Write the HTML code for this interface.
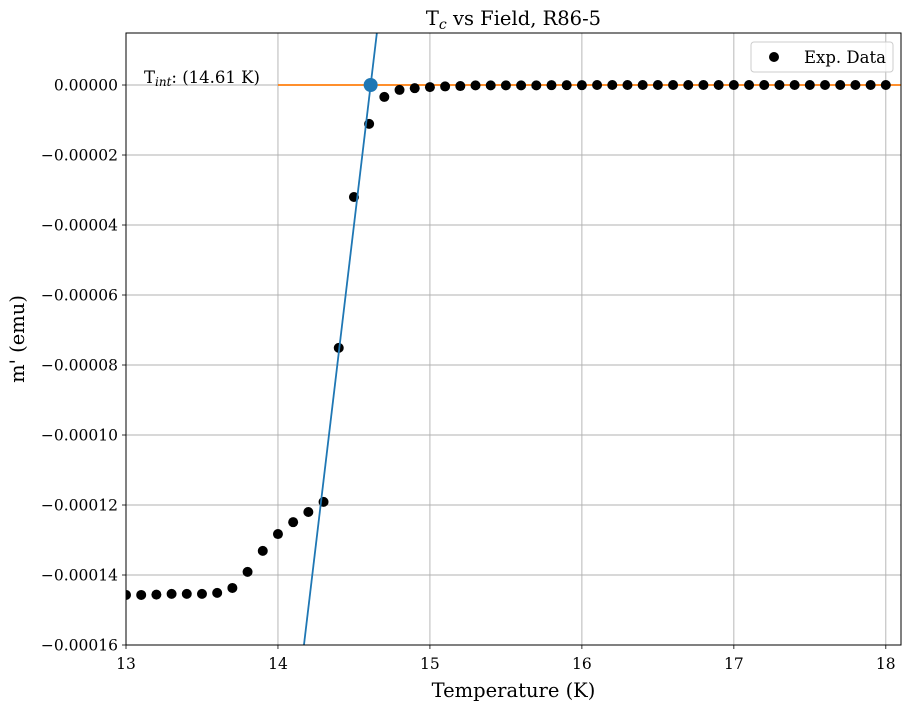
<!DOCTYPE html>
<html><head><meta charset="utf-8"><style>
html,body{margin:0;background:#fff;overflow:hidden;width:911px;height:710px;}
svg{display:block;font-family:"DejaVu Serif","Liberation Serif",serif;}
</style></head><body>
<svg id="chart" width="911" height="710" viewBox="0 0 911 710" xmlns="http://www.w3.org/2000/svg">
<rect width="911" height="710" fill="#fff"/>
<g id="grid"></g>
<g id="plot"></g>
<g id="axes"></g>
</svg>
<script>
const temps = [13.0,13.1,13.2,13.3,13.4,13.5,13.6,13.7,13.8,13.9,14.0,14.1,14.2,14.3,14.4,14.5,14.6,14.7,14.8,14.9,15.0,15.1,15.2,15.3,15.4,15.5,15.6,15.7,15.8,15.9,16.0,16.1,16.2,16.3,16.4,16.5,16.6,16.7,16.8,16.9,17.0,17.1,17.2,17.3,17.4,17.5,17.6,17.7,17.8,17.9,18.0];
const moments = [-1.457e-4,-1.457e-4,-1.456e-4,-1.454e-4,-1.454e-4,-1.454e-4,-1.451e-4,-1.437e-4,-1.391e-4,-1.331e-4,-1.283e-4,-1.249e-4,-1.220e-4,-1.191e-4,-7.51e-5,-3.20e-5,-1.11e-5,-3.4e-6,-1.4e-6,-0.9e-6,-0.6e-6,-0.4e-6,-0.3e-6,-0.1e-6,-0.1e-6,-0.1e-6,-0.1e-6,-0.1e-6,-0.05e-6,-0.05e-6,-0.05e-6,0,0,0,0,0,0,0,0,0,0,0,0,0,0,0,0,0,0,0,0];
const xTicks = [13,14,15,16,17,18];
const yTicks = [0,-0.00002,-0.00004,-0.00006,-0.00008,-0.00010,-0.00012,-0.00014,-0.00016];
const yTickLabels = ["0.00000","\u22120.00002","\u22120.00004","\u22120.00006","\u22120.00008","\u22120.00010","\u22120.00012","\u22120.00014","\u22120.00016"];
const tInt = 14.61;
const slope = 3.645e-4;
const flatStart = 14.0;

const L=126,R=901,T=33,B=645;
const xMin=13,xMax=18.1,yMin=-0.00016,yMax=0.00001486;
const sx=v=>L+(v-xMin)/(xMax-xMin)*(R-L);
const sy=v=>B-(v-yMin)/(yMax-yMin)*(B-T);
const NS="http://www.w3.org/2000/svg";
function mk(tag,attrs,parent){const e=document.createElementNS(NS,tag);for(const k in attrs)e.setAttribute(k,attrs[k]);parent.appendChild(e);return e;}
const grid=document.getElementById('grid'),plot=document.getElementById('plot'),axes=document.getElementById('axes');
const svg=document.getElementById('chart');
const defs=mk('defs',{},svg);const cp=mk('clipPath',{id:'clip'},defs);mk('rect',{x:L,y:T,width:R-L,height:B-T},cp);
plot.setAttribute('clip-path','url(#clip)');

xTicks.forEach(t=>{const x=sx(t);
 const g=mk('line',{x1:x,x2:x,y1:T,y2:B,stroke:'#b0b0b0','stroke-width':0.9},grid);
 
 mk('line',{x1:x,x2:x,y1:B,y2:B+4,stroke:'#000','stroke-width':0.8},axes);
 const tx=mk('text',{x:x,y:B+24,'text-anchor':'middle','font-size':15.5},axes);tx.textContent=t;
 
});
yTicks.forEach((t,i)=>{const y=sy(t);
 const g=mk('line',{x1:L,x2:R,y1:y,y2:y,stroke:'#b0b0b0','stroke-width':0.9},grid);
 
 mk('line',{x1:L-4,x2:L,y1:y,y2:y,stroke:'#000','stroke-width':0.8},axes);
 const tx=mk('text',{x:L-8,y:y+5.5,'text-anchor':'end','font-size':15.5},axes);tx.textContent=yTickLabels[i];
 
});
const fl=mk('line',{x1:sx(flatStart),x2:R,y1:sy(0),y2:sy(0),stroke:'#ff7f0e','stroke-width':1.8},plot);

temps.forEach((t,i)=>{const c=mk('circle',{cx:sx(t),cy:sy(moments[i]),r:5,fill:'#000'},plot);
 });
const x0=13.9,x1=14.8;
const sl=mk('line',{x1:sx(x0),y1:sy(slope*(x0-tInt)),x2:sx(x1),y2:sy(slope*(x1-tInt)),stroke:'#1f77b4','stroke-width':1.8},plot);

const ip=mk('circle',{cx:sx(tInt),cy:sy(0),r:7,fill:'#1f77b4'},plot);

const an=mk('text',{x:144,y:83,'font-size':16.5},plot);

an.innerHTML='T<tspan font-size="12" font-style="italic" dy="3">int</tspan><tspan dy="-3">: (14.61 K)</tspan>';
const fr=mk('rect',{x:L,y:T,width:R-L,height:B-T,fill:'none',stroke:'#000','stroke-width':1},axes);

const ti=mk('text',{x:(L+R)/2,y:25,'text-anchor':'middle','font-size':19.5},axes);

ti.innerHTML='T<tspan font-size="14" font-style="italic" dy="4">c</tspan><tspan dy="-4"> vs Field, R86-5</tspan>';
const xt=mk('text',{x:(L+R)/2,y:697,'text-anchor':'middle','font-size':19.5},axes);xt.textContent='Temperature (K)';

const yt=mk('text',{x:0,y:0,'text-anchor':'middle','font-size':19.5,transform:'translate(24,'+((T+B)/2)+') rotate(-90)'},axes);yt.textContent="m' (emu)";

const lg=mk('g',{},axes);
mk('rect',{x:751,y:42,width:142,height:30,rx:3,fill:'#fff','fill-opacity':0.8,stroke:'#ccc'},lg);
mk('circle',{cx:774,cy:57,r:5,fill:'#000'},lg);
const lt=mk('text',{x:804,y:63,'font-size':16.5},lg);lt.textContent='Exp. Data';

</script>
</body></html>
